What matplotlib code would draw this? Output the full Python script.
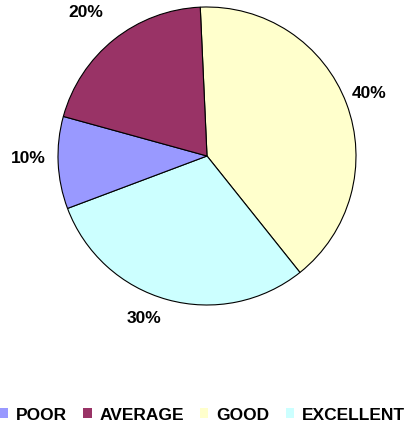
import matplotlib
matplotlib.use('Agg')
import matplotlib.pyplot as plt
from matplotlib.patches import Patch

# Data
labels = ['POOR', 'AVERAGE', 'GOOD', 'EXCELLENT']
values = [10, 20, 40, 30]
colors = ['#9999FF', '#993366', '#FFFFCC', '#CCFFFF']

# pie is drawn clockwise from the top: GOOD, EXCELLENT, POOR, AVERAGE
order = [2, 3, 0, 1]
# percentage label spots (pie radius units), as placed in the original
label_xy = {0: (-1.20, -0.02), 1: (-0.81, 0.96), 2: (1.09, 0.42), 3: (-0.42, -1.09)}

plt.rcParams['font.family'] = ['Liberation Sans', 'DejaVu Sans']

W, H = 411, 429
fig = plt.figure(figsize=(W / 100, H / 100), dpi=100)
cx, cy, r = 207, 156, 149
ax = fig.add_axes([(cx - r) / W, (H - cy - r) / H, 2 * r / W, 2 * r / H])

wedges, texts, autotexts = ax.pie(
    [values[i] for i in order],
    colors=[colors[i] for i in order],
    startangle=92.6, counterclock=False,
    autopct='%1.0f%%', pctdistance=1.2,
    wedgeprops=dict(edgecolor='black', linewidth=0.8),
    textprops=dict(fontsize=12.5, fontweight='bold', color='black'),
)
for t, i in zip(autotexts, order):
    t.set_position(label_xy[i])
ax.set_xlim(-1, 1)
ax.set_ylim(-1, 1)
ax.set_aspect('equal')
ax.axis('off')

handles = [Patch(facecolor=c, edgecolor='none') for c in colors]
fig.legend(handles, labels, loc='center left', bbox_to_anchor=(0 / W, 1 - 415 / H),
           ncol=4, frameon=False, prop=dict(weight='bold', size=12.5),
           handlelength=0.47, handleheight=0.5, handletextpad=0.45,
           columnspacing=0.94, borderpad=0, borderaxespad=0)

fig.savefig('out.png', dpi=100)
